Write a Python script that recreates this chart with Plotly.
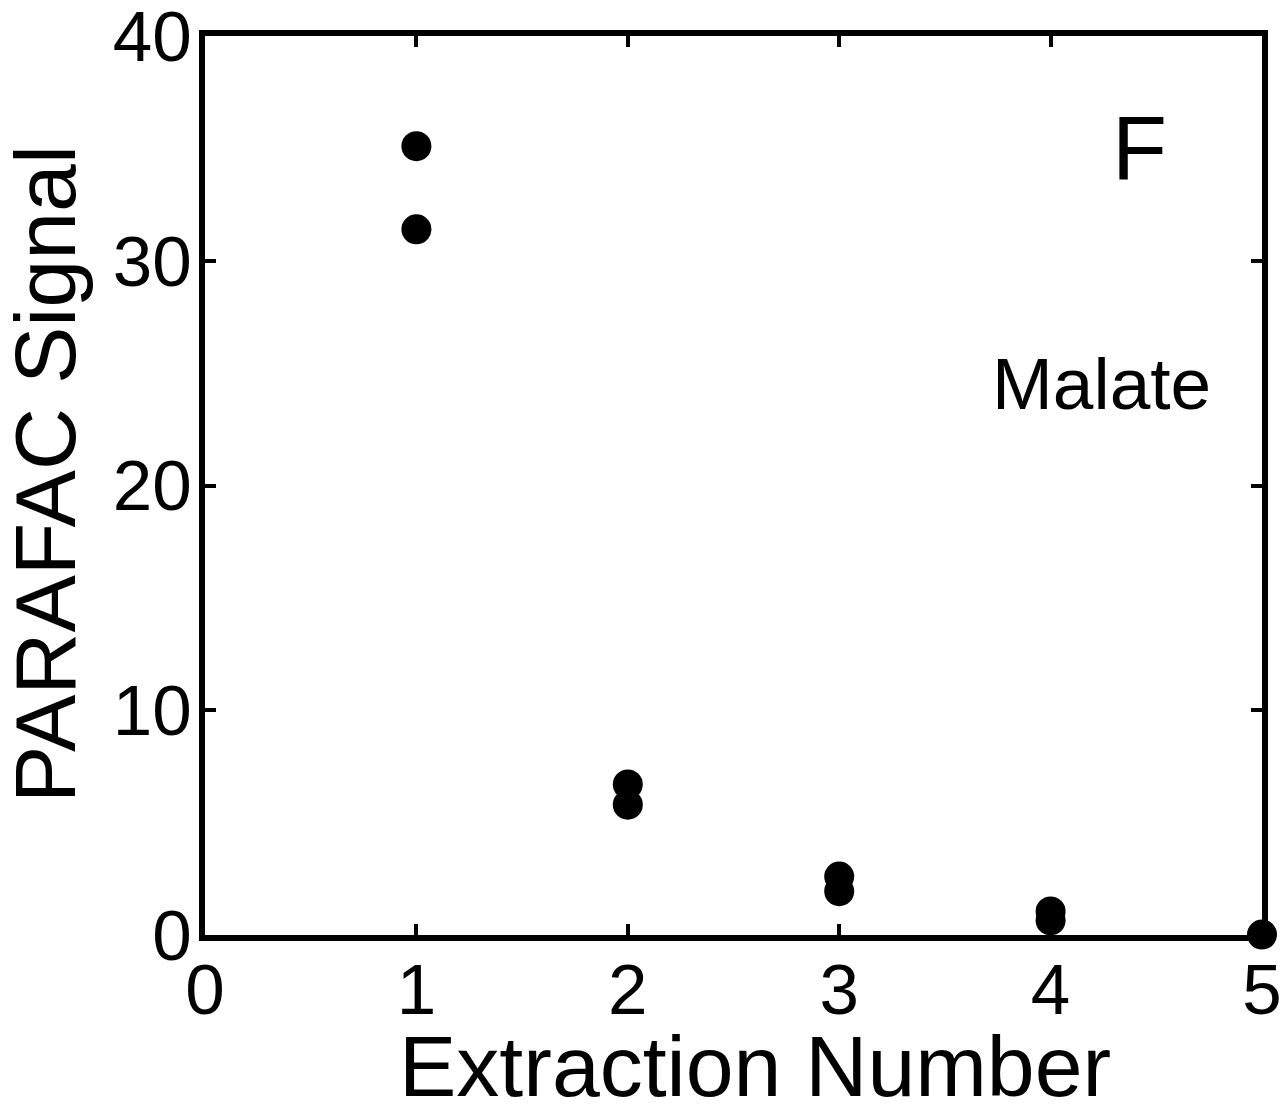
import plotly.graph_objects as go

extraction = [1, 1, 2, 2, 3, 3, 4, 4, 5]
signal = [35.1, 31.4, 6.7, 5.8, 2.6, 1.95, 1.05, 0.65, 0.02]

x_ticks = [0, 1, 2, 3, 4, 5]
y_ticks = [0, 10, 20, 30, 40]

FONT = "Liberation Sans, Arial, sans-serif"
W, H = 1280, 1109
L, R, T, B = 205, 18, 36, 174
PW, PH = W - L - R, H - T - B


def px_to_paper(px, py):
    return (px - L) / PW, (H - py - B) / PH


fig = go.Figure()
fig.add_trace(go.Scatter(
    x=extraction, y=signal, mode="markers",
    marker=dict(size=30, color="black"),
    cliponaxis=False, showlegend=False,
))

axis_common = dict(
    showline=True, linecolor="black", linewidth=6, mirror="ticks",
    ticks="inside", ticklen=11, tickwidth=4, tickcolor="black",
    showgrid=False, zeroline=False, ticklabeloverflow="allow", automargin=False,
    tickfont=dict(family=FONT, size=71, color="black"),
)

fig.update_xaxes(range=[0, 5], tickvals=x_ticks, ticklabelstandoff=-12, **axis_common)
fig.update_yaxes(range=[0, 40], tickvals=y_ticks, ticklabelstandoff=-7, **axis_common)

xt_x, xt_y = px_to_paper(755, 1066)
fig.add_annotation(x=xt_x, y=xt_y, xref="paper", yref="paper", xanchor="center", yanchor="middle",
                   text="Extraction Number", showarrow=False,
                   font=dict(family=FONT, size=86, color="black"))
yt_x, yt_y = px_to_paper(45, 474)
fig.add_annotation(x=yt_x, y=yt_y, xref="paper", yref="paper", xanchor="center", yanchor="middle",
                   text="PARAFAC Signal", textangle=-90, showarrow=False,
                   font=dict(family=FONT, size=86, color="black"))

fig.add_annotation(x=4.42, y=35.0, text="F", showarrow=False, xref="x", yref="y",
                   font=dict(family=FONT, size=90, color="black"))
fig.add_annotation(x=4.24, y=24.55, text="Malate", showarrow=False, xref="x", yref="y",
                   font=dict(family=FONT, size=73, color="black"))

fig.update_layout(
    width=W, height=H,
    margin=dict(l=L, r=R, t=T, b=B),
    plot_bgcolor="white", paper_bgcolor="white",
)

fig.write_html("out.html")
